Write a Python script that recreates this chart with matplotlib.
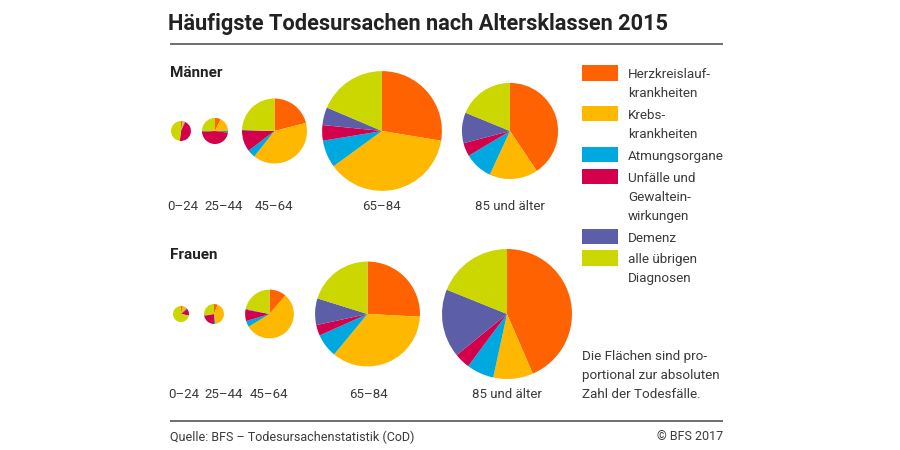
import numpy as np
import matplotlib
matplotlib.use("Agg")
import matplotlib.pyplot as plt

plt.rcParams['font.family'] = ['Roboto', 'DejaVu Sans']

# Daten (Anteile in %) ------------------------------------------------------
age_groups = ['0–24', '25–44', '45–64', '65–84', '85 und älter']

causes = ['Herzkreislauf-\nkrankheiten', 'Krebs-\nkrankheiten', 'Atmungsorgane',
          'Unfälle und\nGewaltein-\nwirkungen', 'Demenz', 'alle übrigen\nDiagnosen']
cause_colors = ['#FF6200', '#FFB800', '#00A8E0', '#D3004C', '#5C5EA8', '#CCD600']

# Todesfälle total (Flächen proportional)
men_total = [450, 770, 4800, 16300, 10500]
women_total = [290, 450, 2700, 12500, 19200]

men_herz = [3, 7, 21, 27.6, 40.6]
men_krebs = [3, 18, 39.7, 37.4, 16.3]
men_atmung = [1, 2, 4, 7.4, 9.5]
men_unfall = [45, 47, 10.3, 4.2, 4.5]
men_demenz = [0, 1, 0.5, 4.8, 10.3]
men_rest = [48, 25, 24.5, 18.6, 18.8]

women_herz = [4, 6, 11.3, 25.8, 43.5]
women_krebs = [8, 42, 55, 35.2, 9.9]
women_atmung = [2, 2, 4, 7.3, 6.8]
women_unfall = [14, 22, 7.6, 3.3, 3.9]
women_demenz = [0, 1, 0.5, 8.2, 17]
women_rest = [72, 27, 21.6, 20.2, 18.9]

note = ['Die Flächen sind pro-', 'portional zur absoluten', 'Zahl der Todesfälle.']

# Layout (Pixel) -------------------------------------------------------------
PX_PER_SQRT = 0.469          # radius = k * sqrt(Todesfälle)
men_cx = [181, 215, 274.5, 382, 510]
women_cx = [181, 214, 269.5, 367.5, 507]
men_label_x = [183, 224, 274, 381, 510]
women_label_x = [184, 224, 269, 368, 507]
ROW_Y = {'men': 131, 'women': 314}
LABEL_Y = {'men': 207, 'women': 394}

TXT = '#3a3a3a'

fig = plt.figure(figsize=(9, 4.5), dpi=100)
ax = fig.add_axes([0, 0, 1, 1])

def draw_row(shares, totals, cxs, cy):
    shares = np.array(shares, dtype=float)
    for i in range(len(totals)):
        r = PX_PER_SQRT * np.sqrt(totals[i])
        vals = shares[:, i]
        colors = [c for c, v in zip(cause_colors, vals) if v > 0]
        vals = vals[vals > 0]
        # y-Achse invertiert: -90 = oben, counterclock=True = im Uhrzeigersinn
        ax.pie(vals, radius=r, center=(cxs[i], cy), startangle=-90,
               counterclock=True, colors=colors,
               wedgeprops=dict(linewidth=0, antialiased=True))

draw_row([men_herz, men_krebs, men_atmung, men_unfall, men_demenz, men_rest],
         men_total, men_cx, ROW_Y['men'])
draw_row([women_herz, women_krebs, women_atmung, women_unfall, women_demenz, women_rest],
         women_total, women_cx, ROW_Y['women'])

ax.set_xlim(0, 900)
ax.set_ylim(450, 0)
ax.set_aspect('equal')
ax.axis('off')

# Titel und Linien
ax.text(168, 30, 'Häufigste Todesursachen nach Altersklassen 2015', fontsize=15.7,
        fontweight='bold', color='#222222', va='baseline', ha='left')
ax.plot([170, 723], [44, 44], color='#555555', lw=1.2, solid_capstyle='butt')
ax.plot([170, 723], [421, 421], color='#555555', lw=1.2, solid_capstyle='butt')

ax.text(170, 73, 'Männer', fontsize=11, fontweight='bold', color='#222222', va='center')
ax.text(170, 255, 'Frauen', fontsize=11, fontweight='bold', color='#222222', va='center')

for x, lab in zip(men_label_x, age_groups):
    ax.text(x, LABEL_Y['men'], lab, fontsize=9.5, color=TXT, ha='center', va='center')
for x, lab in zip(women_label_x, age_groups):
    ax.text(x, LABEL_Y['women'], lab, fontsize=9.5, color=TXT, ha='center', va='center')

# Legende
LINE = 19.2
y = 65
for lab, col in zip(causes, cause_colors):
    ax.add_patch(plt.Rectangle((582, y), 36, 15.5, color=col, lw=0))
    lines = lab.split('\n')
    for k, part in enumerate(lines):
        ax.text(628, y + 8 + k * LINE, part, fontsize=9.7, color=TXT,
                va='center_baseline', ha='left')
    y += len(lines) * LINE + 2.5

for k, part in enumerate(note):
    ax.text(582, 355 + k * LINE, part, fontsize=9.7, color=TXT,
            va='center_baseline', ha='left')

ax.text(170, 437, 'Quelle: BFS – Todesursachenstatistik (CoD)', fontsize=9,
        color=TXT, va='center', ha='left')
ax.text(723, 437, '© BFS 2017', fontsize=9, color=TXT, va='center', ha='right')

fig.savefig('out.png', dpi=100, facecolor='white')
